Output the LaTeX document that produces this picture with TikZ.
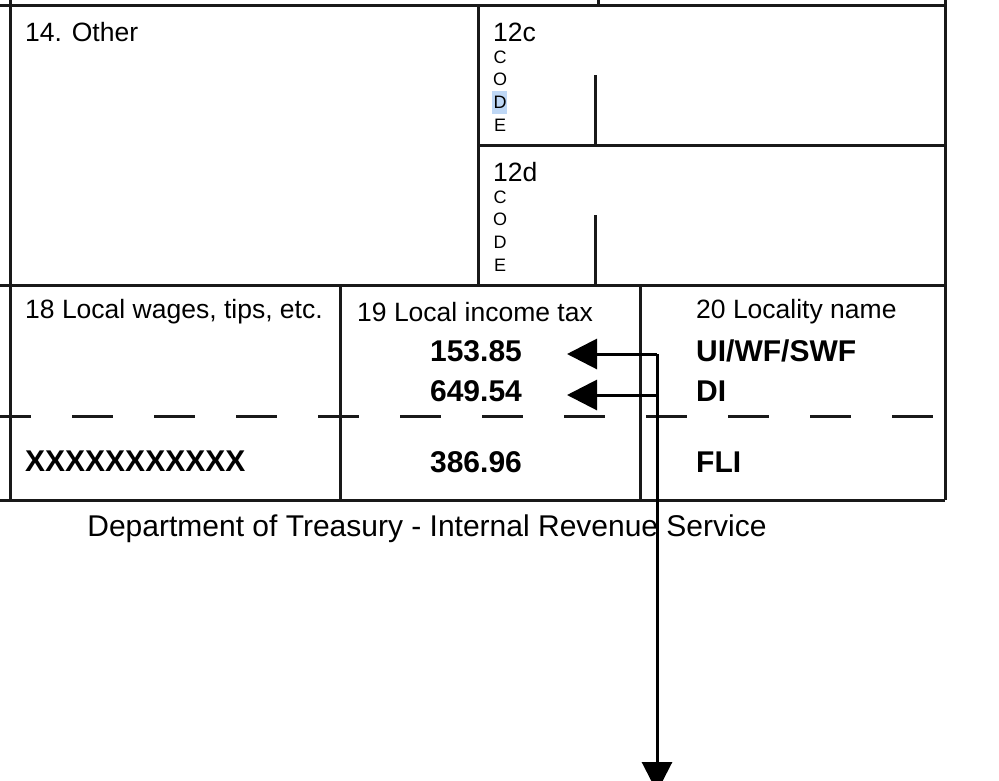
\documentclass[tikz,border=0pt]{standalone}
\usepackage{fontspec}
\setmainfont{Liberation Sans}
\usetikzlibrary{arrows.meta}
\begin{document}
\begin{tikzpicture}[x=1pt,y=-1pt,
  ln/.style={line width=3pt,black!90},
  lbl/.style={anchor=west,font=\fontsize{26.5}{28}\selectfont,inner sep=0},
  big/.style={font=\bfseries\fontsize{30}{32}\selectfont,inner sep=0},
  code/.style={font=\fontsize{18}{19}\selectfont,inner sep=0},
  arr/.style={line width=3pt,-{Triangle[length=30pt,width=30pt]}}]
\useasboundingbox (0,0) rectangle (999,780);
\definecolor{hl}{RGB}{190,215,245}
\fill[hl] (492,91) rectangle (507,114);
% grid
\draw[ln] (0,5) -- (945,5);
\draw[ln] (0,285) -- (945,285);
\draw[ln] (0,500) -- (945,500);
\draw[ln] (10,0) -- (10,500);
\draw[ln] (945,0) -- (945,500);
\draw[ln] (478,5) -- (478,285);
\draw[ln] (598,0) -- (598,5);
\draw[ln] (478,145) -- (945,145);
\draw[ln] (595,75) -- (595,145);
\draw[ln] (595,215) -- (595,285);
\draw[ln] (340,285) -- (340,500);
\draw[ln] (640,285) -- (640,500);
\draw[ln,dash pattern=on 41pt off 41pt,dash phase=10pt] (0,416) -- (945,416);
% texts
\node[lbl] (t14) at (25,32) {14. Other};
\node[lbl] (t12c) at (493,32) {12c};
\node[lbl] (t12d) at (493,172) {12d};
\foreach \l/\yy in {C/57,O/79,D/102,E/125}{\node[code] at (500,\yy) {\l};}
\foreach \l/\yy in {C/197,O/219,D/242,E/265}{\node[code] at (500,\yy) {\l};}
\node[lbl] (t18) at (25,312) {18 Local wages, tips, etc.};
\node[lbl] (t19) at (357,312) {19 Local income tax};
\node[lbl] (t20) at (696,312) {20 Locality name};
\node[big] (v1) at (476,351) {153.85};
\node[big] (v2) at (476,391) {649.54};
\node[big] (v3) at (476,462) {386.96};
\node[big,anchor=west] (n1) at (696,351) {UI/WF/SWF};
\node[big,anchor=west] (n2) at (696,391) {DI};
\node[big,anchor=west] (n3) at (696,462) {FLI};
\node[big,anchor=west] (xx) at (25,461) {XXXXXXXXXXX};
\node[font=\fontsize{30}{32}\selectfont,inner sep=0] (dept) at (427,529) {Department of Treasury - Internal Revenue Service};
% arrows
\coordinate (c1) at (657,354);
\coordinate (c2) at (657,395);
\coordinate (a1) at (567,354);
\coordinate (a2) at (567,395);
\coordinate (bot) at (657,792);
\draw[arr] (c1) -- (a1);
\draw[arr] (c2) -- (a2);
\draw[arr] (c1) -- (bot);
\end{tikzpicture}
\end{document}
